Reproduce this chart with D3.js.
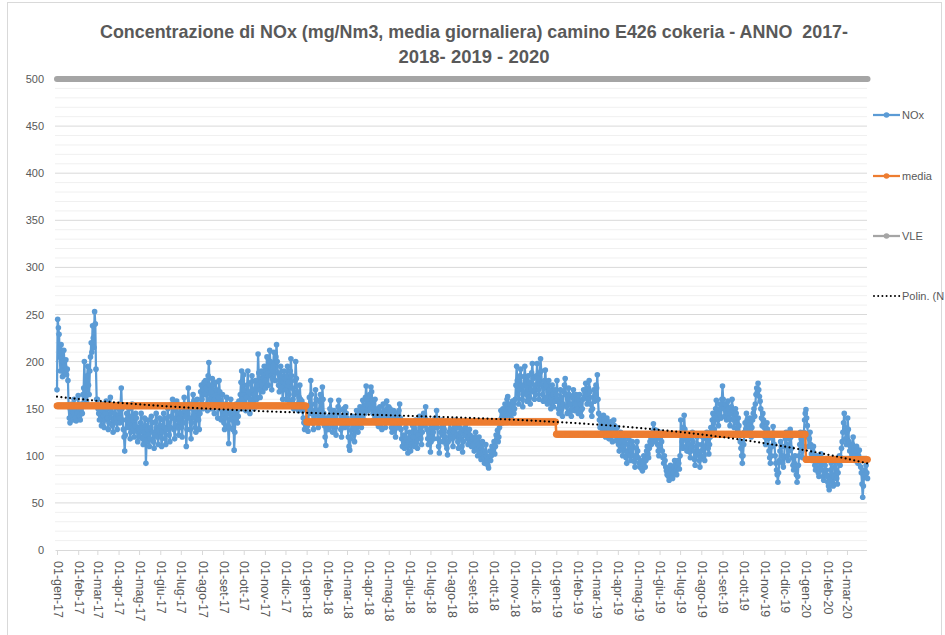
<!DOCTYPE html>
<html>
<head>
<meta charset="utf-8">
<script src="https://cdn.jsdelivr.net/npm/d3@7"></script>
<style>
  body { margin: 0; background: #fff; }
  svg { display: block; }
  text { font-family: "Liberation Sans", Arial, sans-serif; fill: #595959; }
</style>
</head>
<body>
<svg id="chart" width="945" height="635"></svg>
<script>
// daily NOx values (mg/Nm3)
const nox2017 = [
  170, 245, 236, 229, 205, 190, 218, 200, 184, 200, 212, 195, 188, 202, 186, 192, 180, 152, 140, 135, 148, 142, 155, 138, 146, 160, 150, 140, 137, 152, 145,
  164, 150, 142, 138, 148, 155, 145, 165, 172, 200, 170, 162, 158, 185, 195, 175, 165, 190, 205, 220, 210, 238, 225, 215, 253, 240, 192, 160,
  160, 150, 145, 138, 152, 140, 132, 148, 155, 142, 130, 138, 145, 158, 150, 140, 128, 135, 150, 162, 148, 140, 132, 125, 138, 145, 152, 140, 135, 128, 142,
  150, 140, 135, 155, 172, 150, 138, 128, 120, 105, 122, 138, 145, 130, 140, 150, 135, 118, 125, 142, 155, 138, 128, 120, 132, 145, 140, 126, 115, 130,
  128, 120, 135, 145, 130, 118, 112, 125, 140, 132, 92, 115, 128, 138, 122, 110, 118, 130, 142, 135, 125, 115, 108, 122, 136, 145, 130, 120, 112, 128, 140,
  132, 120, 110, 125, 138, 145, 130, 118, 112, 128, 140, 150, 135, 122, 115, 130, 142, 155, 160, 140, 128, 118, 132, 148, 158, 145, 130, 122, 140, 152,
  145, 130, 120, 135, 150, 162, 148, 135, 110, 128, 145, 172, 155, 140, 128, 118, 135, 150, 165, 158, 140, 130, 125, 148, 160, 152, 138, 128, 145, 168, 175,
  160, 150, 170, 178, 165, 180, 172, 155, 148, 185, 199, 175, 160, 150, 168, 182, 175, 158, 145, 160, 178, 170, 155, 140, 162, 180, 168, 150, 138, 152, 165,
  148, 135, 128, 140, 155, 162, 145, 132, 113, 130, 148, 160, 150, 138, 128, 145, 106, 125, 140, 155, 148, 135, 142, 158, 150, 165, 178, 190, 160, 150,
  186, 170, 155, 148, 162, 175, 190, 168, 152, 145, 160, 178, 185, 170, 158, 150, 165, 180, 172, 160, 175, 208, 188, 170, 162, 178, 190, 175, 168, 182, 195,
  180, 172, 190, 205, 188, 175, 198, 212, 200, 185, 170, 182, 195, 210, 198, 180, 205, 218, 200, 188, 175, 168, 180, 195, 185, 172, 160, 178, 190, 182,
  170, 160, 185, 195, 178, 165, 158, 190, 203, 185, 172, 160, 150, 165, 180, 200, 182, 168, 155, 148, 162, 175, 160, 150, 158, 148, 140, 135, 128, 138, 130
]
const nox2018 = [
  140, 132, 126, 150, 162, 145, 180, 165, 148, 135, 128, 142, 155, 170, 160, 148, 136, 130, 145, 158, 165, 150, 140, 173, 160, 145, 132, 120, 111, 128, 140,
  135, 128, 142, 150, 159, 145, 132, 125, 138, 148, 140, 130, 122, 135, 145, 152, 159, 148, 138, 128, 120, 132, 142, 150, 140, 130, 152, 145,
  140, 132, 120, 110, 106, 118, 127, 135, 142, 130, 122, 115, 128, 140, 148, 136, 125, 132, 145, 152, 140, 130, 148, 159, 150, 138, 145, 162, 174, 160, 150,
  148, 155, 165, 150, 173, 168, 158, 145, 138, 150, 160, 148, 135, 142, 150, 131, 140, 152, 145, 135, 128, 142, 155, 148, 138, 130, 145, 158, 150, 140,
  152, 145, 150, 138, 130, 125, 140, 148, 135, 128, 120, 132, 145, 140, 130, 148, 155, 140, 128, 118, 110, 122, 115, 108, 120, 130, 118, 112, 103, 115, 125,
  118, 105, 112, 125, 132, 120, 110, 128, 138, 125, 115, 108, 122, 135, 142, 130, 118, 112, 125, 138, 145, 132, 140, 152, 138, 128, 118, 112, 125, 135,
  104, 115, 128, 135, 125, 118, 130, 140, 135, 148, 130, 118, 110, 103, 115, 125, 138, 130, 122, 115, 128, 135, 120, 112, 108, 101, 115, 125, 135, 128, 120,
  128, 118, 110, 125, 132, 120, 138, 130, 122, 115, 108, 120, 130, 125, 118, 110, 104, 115, 128, 122, 130, 134, 125, 118, 112, 120, 128, 122, 115, 110, 118,
  120, 112, 105, 118, 125, 115, 108, 100, 112, 120, 110, 102, 96, 108, 115, 105, 98, 92, 104, 112, 100, 95, 90, 87, 98, 105, 95, 100, 110, 104,
  108, 115, 102, 110, 122, 118, 127, 115, 120, 130, 138, 148, 140, 135, 150, 145, 138, 155, 150, 142, 160, 163, 150, 145, 155, 148, 140, 152, 158, 150, 145,
  150, 160, 175, 195, 180, 165, 155, 170, 185, 192, 175, 160, 152, 168, 184, 195, 180, 165, 158, 172, 185, 178, 162, 155, 170, 188, 198, 182, 168, 160,
  175, 165, 185, 198, 182, 170, 160, 188, 203, 190, 175, 165, 158, 172, 180, 191, 175, 162, 155, 168, 180, 170, 158, 150, 162, 175, 165, 152, 160, 170, 158
]
const nox2019 = [
  165, 180, 160, 150, 145, 158, 170, 162, 150, 142, 155, 168, 175, 182, 165, 152, 145, 160, 172, 165, 155, 148, 142, 150, 162, 170, 158, 148, 155, 165, 160,
  150, 145, 158, 165, 155, 148, 142, 150, 160, 170, 162, 168, 177, 165, 155, 160, 172, 180, 168, 155, 148, 142, 150, 162, 170, 158, 165, 175,
  172, 186, 160, 145, 138, 130, 142, 135, 125, 132, 143, 138, 128, 120, 130, 140, 135, 125, 118, 128, 136, 130, 122, 115, 125, 138, 132, 122, 116, 124, 130,
  120, 112, 105, 118, 125, 115, 108, 100, 110, 120, 115, 105, 98, 92, 104, 112, 118, 108, 100, 95, 105, 115, 110, 100, 94, 88, 98, 108, 115, 105,
  98, 92, 88, 95, 90, 86, 84, 92, 100, 96, 88, 95, 105, 110, 102, 98, 108, 115, 120, 112, 118, 125, 134, 128, 120, 115, 127, 122, 112, 105, 100,
  110, 118, 125, 115, 105, 98, 92, 100, 95, 88, 84, 80, 86, 78, 74, 82, 90, 85, 78, 76, 82, 88, 95, 90, 84, 80, 88, 95, 92, 86,
  100, 138, 125, 115, 108, 130, 143, 128, 118, 110, 105, 115, 122, 112, 104, 98, 108, 118, 125, 115, 105, 96, 90, 100, 110, 120, 112, 104, 95, 88, 98,
  105, 112, 120, 108, 100, 95, 110, 118, 125, 115, 108, 102, 112, 120, 130, 125, 138, 145, 135, 128, 140, 150, 159, 148, 138, 132, 145, 155, 150, 140, 160,
  174, 160, 150, 142, 155, 148, 138, 145, 158, 150, 140, 132, 145, 152, 160, 148, 138, 130, 142, 150, 145, 135, 128, 140, 132, 122, 115, 108, 100, 92,
  100, 112, 125, 135, 128, 145, 138, 130, 124, 132, 140, 128, 120, 130, 138, 145, 150, 142, 155, 165, 172, 168, 177, 170, 163, 158, 150, 140, 132, 145, 138,
  130, 120, 112, 125, 135, 128, 118, 105, 98, 92, 100, 110, 120, 131, 122, 112, 100, 92, 85, 80, 72, 82, 95, 105, 115, 110, 100, 92, 88, 98,
  110, 118, 125, 112, 100, 95, 105, 118, 128, 120, 108, 98, 90, 85, 92, 100, 88, 80, 72, 78, 90, 100, 112, 125, 118, 105, 98, 110, 125, 138, 145
]
const nox2020 = [
  149, 140, 132, 120, 110, 118, 125, 112, 102, 95, 105, 110, 98, 90, 85, 92, 100, 88, 82, 78, 86, 95, 102, 92, 85, 78, 74, 82, 90, 85, 80,
  78, 72, 68, 64, 75, 85, 92, 80, 72, 68, 78, 88, 95, 85, 76, 70, 82, 92, 100, 90, 98, 108, 115, 125, 135, 145, 130, 118, 112,
  125, 140, 128, 115, 105, 110, 98, 102, 112, 120, 108, 100, 95, 105, 110, 98, 92, 100, 106, 95, 88, 82, 70, 56, 68, 78, 85, 80, 90, 82, 76
]
const noxValues = [].concat(nox2017, nox2018, nox2019, nox2020)

// yearly mean ("media") and limit value (VLE)
const mediaYears = [2017, 2018, 2019, 2020]
const mediaValues = [153, 136, 123, 96]
const vleValue = 500

const monthNames = ['gen', 'feb', 'mar', 'apr', 'mag', 'giu', 'lug', 'ago', 'set', 'ott', 'nov', 'dic']
const yTicks = d3.range(0, 501, 50)
const yMinorTicks = d3.range(0, 501, 10)
const legendLabels = ['NOx', 'media', 'VLE', 'Polin. (N']
const titleLines = ['Concentrazione di NOx (mg/Nm3, media giornaliera) camino E426 cokeria - ANNO  2017-', '2018- 2019 - 2020']

const colors = { nox: '#5b9bd5', media: '#ed7d31', vle: '#a5a5a5', trend: '#000' }

const startDate = new Date(2017, 0, 1)
const days = noxValues.map((v, i) => d3.timeDay.offset(startDate, i))
const endDate = days[days.length - 1]

const svg = d3.select('#chart')

// outer frame
svg.append('rect')
    .attr('x', 7.5).attr('y', 2.5)
    .attr('width', 934).attr('height', 640)
    .attr('fill', 'none')
    .attr('stroke', '#d9d9d9')

const x = d3.scaleTime().domain([startDate, endDate]).range([57, 867.5])
const y = d3.scaleLinear().domain([0, 500]).range([550, 79])

// title
svg.selectAll('.title')
    .data(titleLines)
    .join('text')
    .attr('class', 'title')
    .attr('x', 474)
    .attr('y', (d, i) => i === 0 ? 38 : 63)
    .attr('text-anchor', 'middle')
    .attr('textLength', (d, i) => i === 0 ? 748 : 151)
    .attr('lengthAdjust', 'spacingAndGlyphs')
    .style('white-space', 'pre')
    .style('font-size', '18.5px')
    .style('font-weight', 'bold')
    .text(d => d)

// gridlines
svg.append('g')
    .selectAll('line')
    .data(yMinorTicks.filter(d => d % 50 !== 0))
    .join('line')
    .attr('x1', 55).attr('x2', 867)
    .attr('y1', d => y(d)).attr('y2', d => y(d))
    .attr('stroke', '#f0f0f0')
    .attr('stroke-width', 1)

svg.append('g')
    .selectAll('line')
    .data(yTicks.filter(d => d > 0))
    .join('line')
    .attr('x1', 55).attr('x2', 867)
    .attr('y1', d => y(d)).attr('y2', d => y(d))
    .attr('stroke', '#d9d9d9')
    .attr('stroke-width', 1)

// y labels
svg.append('g')
    .selectAll('text')
    .data(yTicks)
    .join('text')
    .attr('x', 44)
    .attr('y', d => y(d))
    .attr('text-anchor', 'end')
    .attr('dominant-baseline', 'central')
    .style('font-size', '11px')
    .text(d => d)

// x axis
const monthTicks = d3.timeMonth.range(startDate, d3.timeDay.offset(endDate, 1))
const xAxis = d3.axisBottom(x)
    .tickValues(monthTicks)
    .tickSize(5)
    .tickFormat(d => '01-' + monthNames[d.getMonth()] + '-' + String(d.getFullYear()).slice(2))

const gx = svg.append('g')
    .attr('transform', 'translate(0,550)')
    .call(xAxis)
gx.select('.domain').attr('stroke', '#d9d9d9').attr('d', 'M55.5,0.5H867')
gx.selectAll('.tick line').attr('stroke', '#d9d9d9')
gx.selectAll('.tick text')
    .attr('transform', 'rotate(90)')
    .attr('x', 11)
    .attr('y', 0)
    .attr('dy', null)
    .attr('text-anchor', 'start')
    .attr('dominant-baseline', 'central')
    .style('font-family', '"Liberation Sans", Arial, sans-serif')
    .style('font-size', '12.5px')
    .attr('fill', '#595959')

// NOx series
const noxLine = d3.line().x((d, i) => x(days[i])).y(d => y(d))
svg.append('path')
    .datum(noxValues)
    .attr('d', noxLine)
    .attr('fill', 'none')
    .attr('stroke', colors.nox)
    .attr('stroke-width', 2.25)
    .attr('stroke-linejoin', 'round')

svg.append('g')
    .selectAll('circle')
    .data(noxValues)
    .join('circle')
    .attr('cx', (d, i) => x(days[i]))
    .attr('cy', d => y(d))
    .attr('r', 2.8)
    .attr('fill', colors.nox)

// media series: one value per year
const mediaDaily = days.map(d => mediaValues[mediaYears.indexOf(d.getFullYear())])
svg.append('path')
    .datum(mediaDaily)
    .attr('d', noxLine)
    .attr('fill', 'none')
    .attr('stroke', colors.media)
    .attr('stroke-width', 2.5)

svg.append('g')
    .selectAll('circle')
    .data(mediaDaily)
    .join('circle')
    .attr('cx', (d, i) => x(days[i]))
    .attr('cy', d => y(d))
    .attr('r', 3.4)
    .attr('fill', colors.media)

// VLE
svg.append('line')
    .attr('x1', x(startDate)).attr('x2', x(endDate))
    .attr('y1', y(vleValue)).attr('y2', y(vleValue))
    .attr('stroke', colors.vle)
    .attr('stroke-width', 6)
    .attr('stroke-linecap', 'round')

// polynomial trendline of the NOx series (least squares)
function polyFit(xs, ys, order) {
    const n = order + 1
    const A = d3.range(n).map(() => new Array(n + 1).fill(0))
    xs.forEach((xv, k) => {
        for (let i = 0; i < n; i++) {
            for (let j = 0; j < n; j++) A[i][j] += Math.pow(xv, i + j)
            A[i][n] += ys[k] * Math.pow(xv, i)
        }
    })
    for (let i = 0; i < n; i++) {
        let p = i
        for (let r = i + 1; r < n; r++) {
            if (Math.abs(A[r][i]) > Math.abs(A[p][i])) p = r
        }
        const tmp = A[i]
        A[i] = A[p]
        A[p] = tmp
        for (let r = 0; r < n; r++) {
            if (r === i) continue
            const f = A[r][i] / A[i][i]
            for (let c = i; c <= n; c++) A[r][c] -= f * A[i][c]
        }
    }
    return A.map((row, i) => row[n] / row[i])
}

const tNorm = noxValues.map((v, i) => i / (noxValues.length - 1))
const coef = polyFit(tNorm, noxValues, 3)
const trend = tNorm.map(t => coef.reduce((s, c, k) => s + c * Math.pow(t, k), 0))

svg.append('path')
    .datum(trend)
    .attr('d', noxLine)
    .attr('fill', 'none')
    .attr('stroke', colors.trend)
    .attr('stroke-width', 2.2)
    .attr('stroke-linecap', 'round')
    .attr('stroke-dasharray', '0 4.4')

// legend
const legendY = [115, 176, 236, 296]
const legendColors = [colors.nox, colors.media, colors.vle, colors.trend]
const legend = svg.append('g')
legendLabels.forEach((lab, i) => {
    const g = legend.append('g').attr('transform', 'translate(0,' + legendY[i] + ')')
    if (i < 3) {
        g.append('line')
            .attr('x1', 873).attr('x2', 900)
            .attr('stroke', legendColors[i])
            .attr('stroke-width', 2.25)
        g.append('circle')
            .attr('cx', 886.5).attr('r', 2.8)
            .attr('fill', legendColors[i])
    } else {
        g.append('line')
            .attr('x1', 874).attr('x2', 900)
            .attr('stroke', legendColors[i])
            .attr('stroke-width', 2)
            .attr('stroke-linecap', 'round')
            .attr('stroke-dasharray', '0 4.2')
    }
    g.append('text')
        .attr('x', 902)
        .attr('dominant-baseline', 'central')
        .style('font-size', '11px')
        .text(lab)
})
</script>
</body>
</html>
